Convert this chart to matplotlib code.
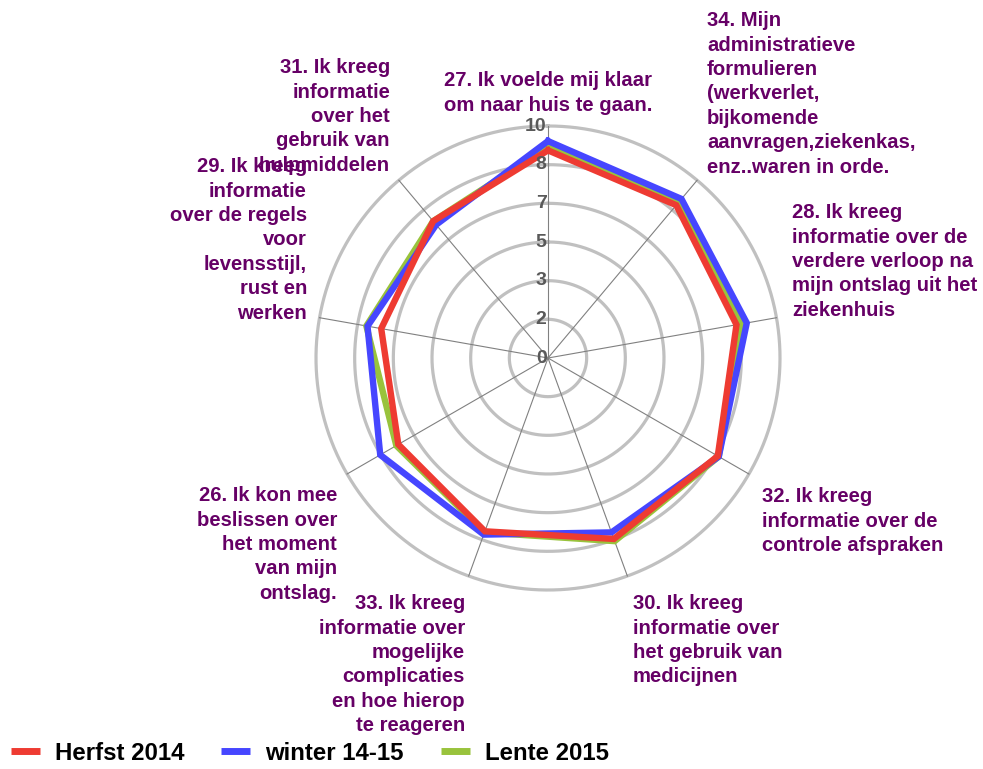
import numpy as np
import matplotlib
matplotlib.use('Agg')
import matplotlib.pyplot as plt
from matplotlib.lines import Line2D

plt.rcParams['font.family'] = ['Liberation Sans', 'DejaVu Sans']

# Categories in clockwise order, starting at the top
categories = [
    '27. Ik voelde mij klaar\nom naar huis te gaan.',
    '34. Mijn\nadministratieve\nformulieren\n(werkverlet,\nbijkomende\naanvragen,ziekenkas,\nenz..waren in orde.',
    '28. Ik kreeg\ninformatie over de\nverdere verloop na\nmijn ontslag uit het\nziekenhuis',
    '32. Ik kreeg\ninformatie over de\ncontrole afspraken',
    '30. Ik kreeg\ninformatie over\nhet gebruik van\nmedicijnen',
    '33. Ik kreeg\ninformatie over\nmogelijke\ncomplicaties\nen hoe hierop\nte reageren',
    '26. Ik kon mee\nbeslissen over\nhet moment\nvan mijn\nontslag.',
    '29. Ik kreeg\ninformatie\nover de regels\nvoor\nlevensstijl,\nrust en\nwerken',
    '31. Ik kreeg\ninformatie\nover het\ngebruik van\nhulpmiddelen',
]

herfst_2014 = [8.95, 8.6, 8.25, 8.45, 8.3, 7.95, 7.45, 7.3, 7.7]
winter_14_15 = [9.35, 8.95, 8.7, 8.5, 8.0, 8.1, 8.35, 7.9, 7.5]
lente_2015 = [9.1, 8.75, 8.45, 8.5, 8.4, 8.0, 7.55, 7.95, 7.7]

series_names = ['Herfst 2014', 'winter 14-15', 'Lente 2015']
series_colors = ['#ee3b32', '#4646ff', '#99c33c']

tick_labels = ['0', '2', '3', '5', '7', '8', '10']

# label anchor (pixel x, first baseline y, alignment)
label_pos = [
    (548, 86, 'center'),
    (707, 26, 'left'),
    (792, 218, 'left'),
    (762, 502, 'left'),
    (633, 609, 'left'),
    (465, 609, 'right'),
    (337, 501, 'right'),
    (307, 172, 'right'),
    (390, 73, 'right'),
]

W, H = 983, 769
cx, cy, R = 548, 358, 232
LABEL_SIZE = 14.6

fig = plt.figure(figsize=(W / 100, H / 100), dpi=100)
ax = fig.add_axes([(cx - R) / W, (H - cy - R) / H, 2 * R / W, 2 * R / H], polar=True)
ax.set_theta_zero_location('N')
ax.set_theta_direction(-1)
ax.set_ylim(0, 10)
ax.grid(False)
ax.spines['polar'].set_visible(False)
ax.set_xticks([])
ax.set_yticks([])
ax.patch.set_alpha(0)

n = len(categories)
angles = np.arange(n) * 2 * np.pi / n
ring_vals = np.linspace(0, 10, len(tick_labels))

# rings
t = np.linspace(0, 2 * np.pi, 400)
for r in ring_vals[1:]:
    ax.plot(t, np.full_like(t, r), color='#c0c0c0', lw=2.3, zorder=1, clip_on=False)
# spokes
for a in angles:
    ax.plot([a, a], [0, 10], color='#808080', lw=0.8, zorder=1, clip_on=False)

# series: green under, red on top
data = [herfst_2014, winter_14_15, lente_2015]
for idx in [2, 1, 0]:
    vals = list(data[idx]) + [data[idx][0]]
    ang = list(angles) + [angles[0]]
    ax.plot(ang, vals, color=series_colors[idx], lw=4.6, zorder=3 + (2 - idx),
            solid_joinstyle='miter', clip_on=False)

# radial tick labels
for lab, r in zip(tick_labels, ring_vals):
    ax.annotate(lab, xy=(0, r), xytext=(-1, 0), textcoords='offset points',
                ha='right', va='center', fontsize=14, fontweight='bold',
                color='#595959', zorder=6)

# category labels (va top: first baseline minus ascent)
asc = 0.73 * LABEL_SIZE / 0.72
for text, (px, py, ha) in zip(categories, label_pos):
    fig.text(px / W, 1 - (py - asc) / H, text, ha=ha, va='top', multialignment=ha,
             fontsize=LABEL_SIZE, fontweight='bold', color='#660066', linespacing=1.36)

handles = [Line2D([0], [0], color=c, lw=5, solid_capstyle='butt') for c in series_colors]
fig.legend(handles, series_names, loc='center left', bbox_to_anchor=(11 / W, 1 - 753 / H),
           ncol=3, frameon=False, handlelength=1.2, handletextpad=0.62,
           columnspacing=1.55, borderaxespad=0, borderpad=0,
           prop={'weight': 'bold', 'size': 17.3})

fig.savefig('out.png', dpi=100, facecolor='white')
